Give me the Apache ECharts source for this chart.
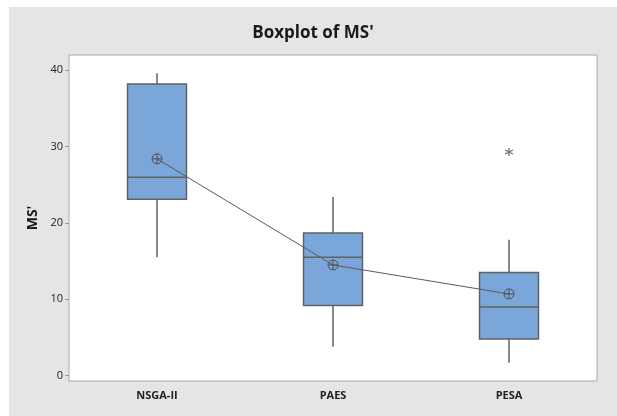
<!DOCTYPE html>
<html>
<head>
<meta charset="utf-8">
<script src="https://cdn.jsdelivr.net/npm/echarts@6/dist/echarts.min.js"></script>
<style>
  html, body { margin: 0; padding: 0; background: #fff; }
  #wrap { position: relative; width: 617px; height: 416px; background: #fff; }
  #main { position: absolute; left: 9px; top: 7px; width: 608px; height: 409px; background: #e5e5e5; }
</style>
</head>
<body>
<div id="wrap"><div id="main"></div></div>
<script>
// values
var categories = ['NSGA-II', 'PAES', 'PESA'];
var whiskerLow = [15.5, 3.8, 1.7];
var q1 = [23.1, 9.2, 4.8];
var median = [26.0, 15.5, 9.0];
var q3 = [38.2, 18.7, 13.5];
var whiskerHigh = [39.6, 23.4, 17.8];
var means = [28.4, 14.5, 10.7];
var outliers = [['PESA', 29.3]];
var yTicks = [0, 10, 20, 30, 40];

var boxData = categories.map(function (c, i) {
  return [i, whiskerLow[i], q1[i], median[i], q3[i], whiskerHigh[i]];
});

var chart = echarts.init(document.getElementById('main'));

var font = "'Open Sans', 'Noto Sans', sans-serif";
var meanSymbol = 'path://M10,0A10,10 0 1,1 9.99,0ZM10,0L10,20M0,10L20,10';
var starSymbol = 'path://M5,0L5,10M0.7,2.5L9.3,7.5M9.3,2.5L0.7,7.5';
var edge = '#626262';

// box without whisker caps, like the minitab plot
function renderBox(params, api) {
  var x = api.value(0);
  var pLow = api.coord([x, api.value(1)]);
  var pQ1 = api.coord([x, api.value(2)]);
  var pMed = api.coord([x, api.value(3)]);
  var pQ3 = api.coord([x, api.value(4)]);
  var pHigh = api.coord([x, api.value(5)]);
  var half = api.size([1, 0])[0] * 0.335 / 2;
  var lineStyle = { stroke: edge, lineWidth: 1.5 };
  return {
    type: 'group',
    children: [
      { type: 'line', shape: { x1: pLow[0], y1: pLow[1], x2: pQ1[0], y2: pQ1[1] }, style: lineStyle },
      { type: 'line', shape: { x1: pQ3[0], y1: pQ3[1], x2: pHigh[0], y2: pHigh[1] }, style: lineStyle },
      {
        type: 'rect',
        shape: { x: pQ3[0] - half, y: pQ3[1], width: half * 2, height: pQ1[1] - pQ3[1] },
        style: { fill: '#7ba6d9', stroke: edge, lineWidth: 1.5 }
      },
      { type: 'line', shape: { x1: pMed[0] - half, y1: pMed[1], x2: pMed[0] + half, y2: pMed[1] }, style: lineStyle }
    ]
  };
}

var option = {
  animation: false,
  title: {
    text: "Boxplot of MS'",
    left: 'center',
    top: 13,
    textStyle: { fontFamily: font, fontSize: 17, fontWeight: 'bold', color: '#1a1a1a' }
  },
  grid: {
    left: 60,
    top: 48,
    width: 528,
    height: 326,
    show: true,
    backgroundColor: '#fff',
    borderColor: '#a8a8a8',
    borderWidth: 1
  },
  xAxis: {
    type: 'category',
    data: categories,
    boundaryGap: true,
    axisLine: { show: false },
    axisTick: { alignWithLabel: true, length: 4, lineStyle: { color: '#999' } },
    axisLabel: { margin: 9, fontFamily: font, fontSize: 11, fontWeight: 'bold', color: '#222' },
    splitLine: { show: false }
  },
  yAxis: {
    type: 'value',
    min: -0.7,
    max: 42,
    name: "MS'",
    nameLocation: 'middle',
    nameRotate: 90,
    nameGap: 28,
    nameTextStyle: { fontFamily: font, fontSize: 14, fontWeight: 'bold', color: '#1a1a1a' },
    axisLine: { show: false },
    axisTick: { show: true, length: 4, customValues: yTicks, lineStyle: { color: '#999' } },
    axisLabel: { margin: 6, customValues: yTicks, fontFamily: font, fontSize: 11, color: '#222' },
    splitLine: { show: false }
  },
  series: [
    {
      type: 'custom',
      renderItem: renderBox,
      data: boxData,
      encode: { x: 0, y: [1, 2, 3, 4, 5] },
      z: 2
    },
    {
      type: 'line',
      data: means,
      symbol: meanSymbol,
      symbolSize: 10,
      lineStyle: { color: '#5a5a5a', width: 1 },
      itemStyle: { color: 'rgba(0,0,0,0)', borderColor: '#505050', borderWidth: 1 },
      z: 5
    },
    {
      type: 'scatter',
      data: outliers,
      symbol: starSymbol,
      symbolSize: 8,
      itemStyle: { color: 'rgba(0,0,0,0)', borderColor: '#505050', borderWidth: 1.3 },
      z: 5
    }
  ]
};

chart.setOption(option);
</script>
</body>
</html>
